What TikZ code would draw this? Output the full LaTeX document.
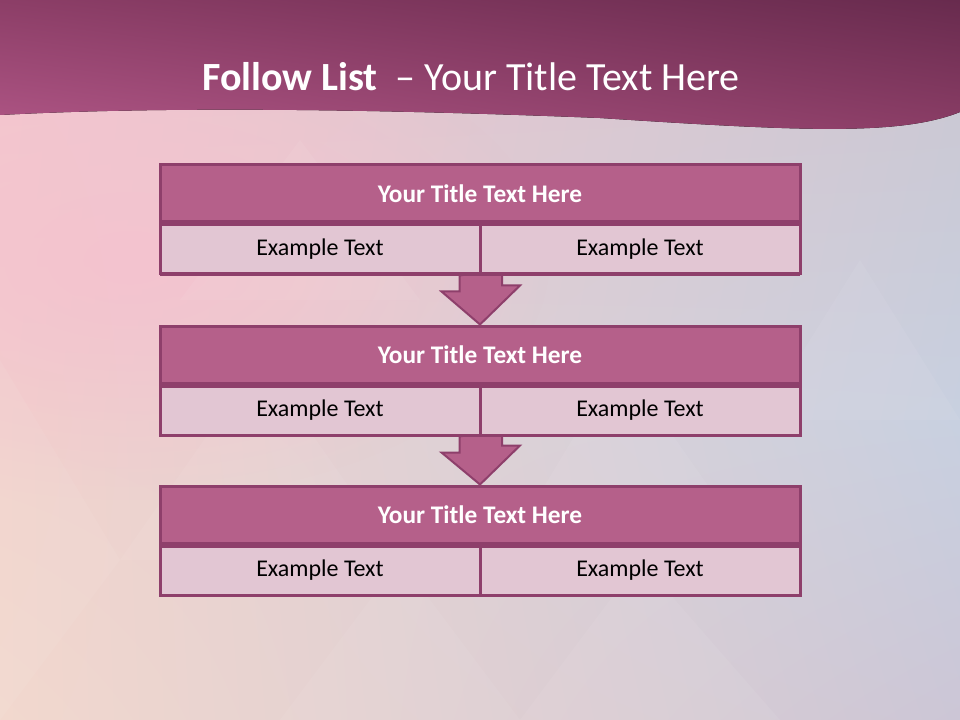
\documentclass[tikz,border=0pt]{standalone}
\usepackage{fontspec}
\setmainfont{Carlito}
\usetikzlibrary{positioning, calc, shadings, shadows, fadings}
\pgfdeclarelayer{backdrop}
\pgfdeclarelayer{arrows}
\pgfsetlayers{backdrop,arrows,main}
\definecolor{plumFill}  {RGB}{181, 96,138}
\definecolor{plumBd}    {RGB}{142, 63,107}
\definecolor{cellFill}  {RGB}{226,198,211}
\definecolor{hdrDark}   {RGB}{104, 43, 78}
\definecolor{hdrMid}    {RGB}{140, 62,103}
\definecolor{hdrLight}  {RGB}{176, 86,134}
\definecolor{bgPink}    {RGB}{244,195,207}
\definecolor{bgGray}    {RGB}{204,198,208}
\definecolor{bgPeach}   {RGB}{242,210,204}
\definecolor{bgBlue}    {RGB}{200,208,224}
\definecolor{bgCream}   {RGB}{242,216,206}
\definecolor{bgLilac}   {RGB}{204,198,214}
\tikzfading[name=glow, inner color=transparent!0, outer color=transparent!100]
\tikzset{
  %% pink title row of each block
  boxtitle/.style={
    rectangle, inner sep=0pt,
    minimum width=480pt, minimum height=42.75pt,
    draw=plumBd, line width=2.25pt, fill=plumFill,
    text=white, font=\fontsize{19}{22}\selectfont\bfseries
  },
  %% light cell below the title row
  cell/.style={
    rectangle, inner sep=0pt,
    minimum width=240pt, minimum height=36.75pt,
    draw=plumBd, line width=2.25pt, fill=cellFill,
    text=black, font=\fontsize{18}{21}\selectfont,
    drop shadow={shadow xshift=0pt, shadow yshift=-1.6pt,
                 fill=plumBd, opacity=1}
  },
  %% block arrow between two blocks
  downarr/.style={
    fill=plumFill, draw=plumBd, line width=1.5pt, line join=miter
  },
  %% faint facet of the background
  facet/.style={fill=white, opacity=0.06}
}

\begin{document}
\begin{tikzpicture}[x=0.75pt, y=-0.75pt]
\useasboundingbox (0,0) rectangle (960,720);

%% ═══════════════════════════════════════════════════════════
%%  BACKGROUND  (pastel facets + wavy header band)
%% ═══════════════════════════════════════════════════════════

\begin{pgfonlayer}{backdrop}
  \fill[upper left=bgPink, upper right=bgGray,
        lower left=bgPeach, lower right=bgBlue] (0,0) rectangle (960,420);
  \fill[upper left=bgPeach, upper right=bgBlue,
        lower left=bgCream, lower right=bgLilac] (0,420) rectangle (960,720);
  % pink glow on the upper left
  \fill[bgPink, path fading=glow] (130,260) ellipse [x radius=420, y radius=240];
  % a few faint triangles
  \fill[facet] (0,360) -- (120,560) -- (0,720) -- cycle;
  \fill[facet] (120,560) -- (260,360) -- (400,560) -- cycle;
  \fill[facet] (400,560) -- (520,720) -- (280,720) -- cycle;
  \fill[facet] (620,360) -- (760,560) -- (500,560) -- cycle;
  \fill[facet] (860,260) -- (960,420) -- (760,420) -- cycle;
  \fill[facet] (640,560) -- (780,720) -- (520,720) -- cycle;
  \fill[facet] (300,140) -- (420,300) -- (180,300) -- cycle;
  % header band
  \fill[upper left=hdrMid, upper right=hdrDark,
        lower left=hdrLight, lower right=hdrMid]
    (0,0) -- (960,0) -- (960,112)
    .. controls (900,136) and (800,131) .. (600,118)
    .. controls (350,108) and (150,107) .. (0,115) -- cycle;
\end{pgfonlayer}

\node[text=white, font=\fontsize{30}{34}\selectfont] (title) at (471,77)
  {\textbf{Follow List}\hspace{0.45em}– Your Title Text Here};

%% ═══════════════════════════════════════════════════════════
%%  BLOCKS
%% ═══════════════════════════════════════════════════════════

\foreach \i/\y in {1/193.5, 2/354.5, 3/514.5} {
  \node[boxtitle] (t\i) at (480,\y) {Your Title Text Here};
  \node[cell, anchor=north west] (l\i) at (t\i.south west) {Example Text};
  \node[cell, anchor=north east] (r\i) at (t\i.south east) {Example Text};
}

%% ═══════════════════════════════════════════════════════════
%%  ARROWS between blocks
%% ═══════════════════════════════════════════════════════════

\begin{pgfonlayer}{arrows}
  \foreach \i/\j in {1/2, 2/3}
    \draw[downarr] ($(l\i.south east)+(-22,0)$) -- ++(0,16) -- ++(-18,0)
      -- (t\j.north) -- ++(40,-39) -- ++(-18,0) -- ++(0,-16) -- cycle;
\end{pgfonlayer}

\end{tikzpicture}
\end{document}
